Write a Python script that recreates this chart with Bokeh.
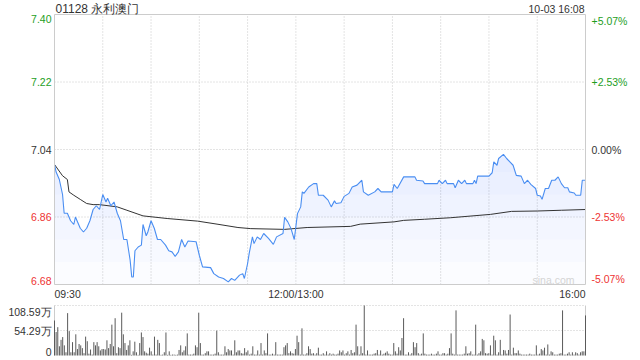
import numpy as np
from bokeh.plotting import figure
from bokeh.models import Range1d
from bokeh.core.properties import value
from bokeh.embed import file_html
from bokeh.resources import INLINE

# ---------------- data ----------------
title_text = "01128 永利澳门"
stamp_text = "10-03 16:08"
prev_close = 7.04
price_ticks = [6.68, 6.86, 7.04, 7.22, 7.40]
pct_labels = ["-5.07%", "-2.53%", "0.00%", "+2.53%", "+5.07%"]
time_ticks = [0, 150, 330]          # trading minutes since 09:30 (lunch removed)
time_labels = ["09:30", "12:00/13:00", "16:00"]
vol_ticks = [0, 54.29, 108.59]
vol_labels = ["0", "54.29万", "108.59万"]

price_minute = [0, 1, 3, 5, 6, 8, 10, 12, 13, 15, 16, 18, 20, 22, 24, 26, 28, 30, 32, 33,
                35, 37, 39, 41, 43, 45, 47, 48, 49, 50, 52, 54, 55, 57, 58, 60, 62, 64, 66, 69,
                71, 73, 75, 77, 79, 81, 83, 88, 90, 92, 97, 99, 102, 105, 108, 110, 112, 115, 117, 118,
                120, 121, 123, 124, 126, 128, 130, 133, 136, 138, 142, 143, 145, 147, 149, 151, 153, 154, 155, 158,
                161, 163, 164, 167, 170, 172, 174, 175, 178, 180, 183, 185, 188, 191, 192, 195, 199, 201, 203, 210,
                211, 213, 217, 224, 225, 229, 230, 238, 239, 241, 243, 244, 248, 249, 251, 253, 255, 256, 260, 261,
                262, 263, 270, 272, 273, 275, 276, 279, 281, 283, 285, 287, 290, 292, 294, 296, 299, 300, 302, 303,
                305, 307, 309, 311, 313, 315, 317, 319, 320, 323, 324, 327, 328, 330]
price_value = [7.000, 6.980, 6.960, 6.920, 6.870, 6.870, 6.850, 6.840, 6.860, 6.840, 6.830, 6.820, 6.830, 6.850, 6.880, 6.890, 6.880, 6.920, 6.900, 6.910,
               6.890, 6.900, 6.870, 6.850, 6.800, 6.800, 6.745, 6.700, 6.700, 6.770, 6.780, 6.785, 6.840, 6.810, 6.820, 6.850, 6.830, 6.800, 6.800, 6.785,
               6.770, 6.767, 6.755, 6.767, 6.800, 6.780, 6.796, 6.794, 6.758, 6.727, 6.725, 6.709, 6.700, 6.696, 6.687, 6.696, 6.691, 6.705, 6.709, 6.696,
               6.736, 6.763, 6.807, 6.789, 6.807, 6.800, 6.816, 6.803, 6.787, 6.807, 6.816, 6.859, 6.847, 6.829, 6.800, 6.869, 6.887, 6.927, 6.923, 6.940,
               6.949, 6.949, 6.918, 6.918, 6.905, 6.887, 6.903, 6.896, 6.898, 6.915, 6.923, 6.940, 6.945, 6.958, 6.927, 6.918, 6.927, 6.936, 6.927, 6.927,
               6.947, 6.936, 6.967, 6.967, 6.958, 6.956, 6.949, 6.949, 6.958, 6.949, 6.958, 6.949, 6.949, 6.938, 6.958, 6.949, 6.958, 6.949, 6.949, 6.958,
               6.949, 6.969, 6.969, 6.978, 7.007, 6.998, 7.016, 7.027, 7.016, 7.007, 6.998, 6.971, 6.969, 6.949, 6.958, 6.947, 6.936, 6.918, 6.916, 6.907,
               6.936, 6.936, 6.958, 6.958, 6.967, 6.949, 6.938, 6.938, 6.927, 6.924, 6.918, 6.918, 6.958, 6.958]

avg_minute = [0, 5, 8, 9, 12, 16, 20, 24, 28, 39, 45, 55, 70, 89, 101, 114, 122, 143, 157, 184,
              190, 211, 217, 230, 246, 271, 284, 300, 315, 330]
avg_value = [7.000, 6.970, 6.960, 6.927, 6.918, 6.907, 6.896, 6.893, 6.893, 6.887, 6.878, 6.863, 6.856, 6.849, 6.841, 6.832, 6.829, 6.827, 6.832, 6.835,
             6.841, 6.847, 6.851, 6.854, 6.858, 6.867, 6.875, 6.876, 6.878, 6.880]

# volume per minute, in 万 shares
volume_wan = [76, 51, 61.5, 20, 34, 40, 22, 7, 92, 53, 7, 29, 7, 46, 14, 25, 22, 16, 5, 41,
              31, 4, 13, 2, 29, 22, 29, 20, 11, 14, 14, 13, 33, 16, 25, 67, 20, 81, 5, 18,
              16, 93, 46, 27, 12, 22, 33, 1.4, 9, 30, 7, 1.4, 27, 50, 40, 9, 6, 4, 17, 9,
              2, 41, 2, 34, 27, 1.4, 2, 7, 50, 1.4, 9, 1.4, 2, 2, 1.4, 2, 12, 22, 7, 11,
              20, 48, 2, 2, 2, 4, 22, 18, 93, 27, 2, 2, 5, 9, 9, 2, 2, 2, 4, 54,
              7, 2, 2, 2, 20, 7, 14, 11,
              11, 2, 33, 7, 11, 11, 5, 4, 16, 7, 11, 2, 4, 20, 2, 2, 11, 2, 27, 2,
              11, 5, 48, 2, 2, 4, 2, 29, 2, 2, 2, 2, 18, 22, 27, 5, 9, 5, 4, 14,
              43, 29, 2, 59, 2, 2, 5, 20, 14, 4, 5, 2, 5, 17, 2, 2, 5, 2, 9, 2,
              5, 2, 4, 2, 2, 4, 11, 7, 11, 2, 5, 9, 2, 12, 5, 7, 67, 20, 2, 20,
              5, 108.59, 2, 11, 2, 2, 2, 4, 5, 12, 2, 11, 2, 4, 6, 9, 4, 2, 2, 27,
              9, 4, 18, 11, 38, 81, 2, 2,
              7, 2, 5, 29, 18, 27, 5, 2, 4, 48, 4, 2, 2, 2, 4, 2, 2, 4, 9, 2,
              2, 5, 5, 2, 4, 16, 48, 4, 2, 98, 2, 2, 2, 2, 4, 20, 4, 5, 9, 2,
              2, 67, 2, 5, 9, 36, 33, 5, 4, 5, 22, 2, 43, 33, 2, 7, 34, 2, 12, 11,
              4, 12, 89, 2, 17, 5, 5, 11, 4, 2, 2, 2, 2, 2, 4, 2, 2, 2, 22, 2,
              4, 14, 11, 17, 2, 24, 2, 9, 7, 2, 2, 2, 4, 5, 98, 2, 2, 4, 7, 2,
              7, 2, 7, 5, 2, 7, 9, 9, 87]

assert len(price_minute) == len(price_value)
assert len(avg_minute) == len(avg_value)

# ---------------- layout / style ----------------
W, H = 640, 360
FONT = value("Liberation Sans")
FS = "10.5px"
GREEN = "#1e9e1e"
RED = "#ee3333"
DARK = "#333333"
GRID = "#c8c8c8"
BORDER = "#cccccc"
BLUE = "#4a8ef2"
T0, T1 = time_ticks[0], time_ticks[-1]

# pixel box of the panels (from top-left of canvas)
PX_L, PX_R = 54, 585
PR_TOP, PR_BOT = 14, 284
VO_TOP, VO_BOT = 305, 355

# the whole canvas is the frame; each panel gets its own range mapped onto its box
kx = (T1 - T0) / (PX_R - PX_L)
t_range = Range1d(T0 - PX_L * kx, T1 + (W - PX_R) * kx)
ylo, yhi = price_ticks[0], price_ticks[-1]
ky = (yhi - ylo) / (PR_BOT - PR_TOP)
price_range = Range1d(ylo - (H - PR_BOT) * ky, yhi + PR_TOP * ky)
vmax = vol_ticks[-1]
kv = vmax / (VO_BOT - VO_TOP)
vol_range = Range1d(0 - (H - VO_BOT) * kv, vmax + VO_TOP * kv)

p = figure(width=W, height=H, x_range=Range1d(0, W), y_range=Range1d(0, H),
           output_backend="svg", toolbar_location=None,
           x_axis_location=None, y_axis_location=None,
           min_border=0, min_border_left=0, min_border_right=0,
           min_border_top=0, min_border_bottom=0)
p.extra_x_ranges = {"t": t_range}
p.extra_y_ranges = {"price": price_range, "vol": vol_range}
p.xgrid.grid_line_color = None
p.ygrid.grid_line_color = None
p.outline_line_color = None
p.background_fill_color = "white"
p.border_fill_color = "white"

# ---- price panel ----
grid_t = list(range(T0 + 30, T1, 30))
p.segment(x0=grid_t, y0=[ylo] * len(grid_t), x1=grid_t, y1=[yhi] * len(grid_t),
          x_range_name="t", y_range_name="price", line_color=GRID, line_dash="1 2", line_width=1)
inner = price_ticks[1:-1]
p.segment(x0=[T0] * len(inner), y0=inner, x1=[T1] * len(inner), y1=inner,
          x_range_name="t", y_range_name="price", line_color=GRID, line_dash="1 2", line_width=1)

pm = np.array(price_minute, dtype=float)
pv = np.array(price_value, dtype=float)
levels = np.linspace(ylo, 6.98, 6)
for lv in levels:
    p.varea(x=pm, y1=np.minimum(lv, pv), y2=pv, x_range_name="t", y_range_name="price",
            fill_color=BLUE, fill_alpha=0.022)

p.line(avg_minute, avg_value, x_range_name="t", y_range_name="price",
       line_color="#333333", line_width=1)
p.line(price_minute, price_value, x_range_name="t", y_range_name="price",
       line_color=BLUE, line_width=1.1)

# frame border of price panel
p.quad(left=[T0], right=[T1], bottom=[ylo], top=[yhi], x_range_name="t", y_range_name="price",
       fill_color=None, line_color=BORDER, line_width=1)

# price / percentage labels
def lab_color(v):
    if abs(v - prev_close) < 1e-9:
        return DARK
    return GREEN if v > prev_close else RED

for i, (v, pct) in enumerate(zip(price_ticks, pct_labels)):
    base = "middle"
    if i == 0:
        base = "bottom"
    elif i == len(price_ticks) - 1:
        base = "top"
    c = lab_color(v)
    p.text(x=[PX_L - 3], y=[v], text=[f"{v:.2f}"], y_range_name="price",
           text_align="right", text_baseline=base, text_font=FONT, text_font_size=FS, text_color=c)
    p.text(x=[PX_R + 6], y=[v], text=[pct], y_range_name="price",
           text_align="left", text_baseline=base, text_font=FONT, text_font_size=FS, text_color=c)

# title and timestamp
p.text(x=[PX_L + 1], y=[H - 8], text=[title_text], text_align="left", text_baseline="middle",
       text_font=FONT, text_font_size="12px", text_color=DARK)
p.text(x=[PX_R - 1], y=[H - 8], text=[stamp_text], text_align="right", text_baseline="middle",
       text_font=FONT, text_font_size=FS, text_color=DARK)

# time labels
for t, s, a in zip(time_ticks, time_labels, ["left", "center", "right"]):
    p.text(x=[t], y=[H - 293], text=[s], x_range_name="t", text_align=a, text_baseline="middle",
           text_font=FONT, text_font_size=FS, text_color=DARK)

# watermark
p.text(x=[PX_R - 53], y=[H - 279], text=["sina.com"], text_align="left", text_baseline="middle",
       text_font=FONT, text_font_size=FS, text_color="#d4d4d4")

# ---- volume panel ----
vol = np.array(volume_wan, dtype=float)
vx = np.arange(len(vol)) * (T1 - T0) / (len(vol) - 1) + T0

vg = vol_ticks[1:]
p.segment(x0=[T0] * len(vg), y0=vg, x1=[T1] * len(vg), y1=vg,
          x_range_name="t", y_range_name="vol", line_color=GRID, line_dash="1 2", line_width=1)
p.segment(x0=[T0, T1], y0=[0, 0], x1=[T0, T1], y1=[vmax, vmax],
          x_range_name="t", y_range_name="vol", line_color=BORDER, line_width=1)
p.segment(x0=vx, y0=np.zeros_like(vol), x1=vx, y1=vol, x_range_name="t", y_range_name="vol",
          line_color="#5a5a5a", line_width=1)

for t, s, b in zip(vol_ticks, vol_labels, ["bottom", "middle", "top"]):
    p.text(x=[PX_L - 3], y=[t], text=[s], y_range_name="vol", text_align="right", text_baseline=b,
           text_font=FONT, text_font_size=FS, text_color=DARK)

open("out.html", "w").write(file_html(p, INLINE))
